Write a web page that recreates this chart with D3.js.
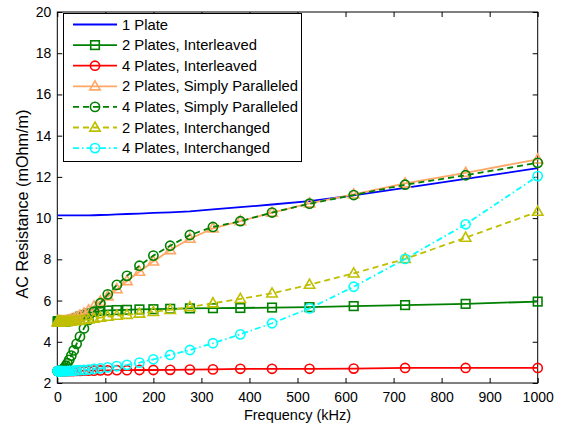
<!DOCTYPE html>
<html><head><meta charset="utf-8">
<script src="https://cdn.jsdelivr.net/npm/d3@7"></script>
<style>body{margin:0;background:#fff}svg{display:block}text{font-family:"Liberation Sans",Arial,sans-serif;fill:#000}</style>
</head><body><svg id="c" width="561" height="425"></svg>
<script>
const freq = [1, 1.17, 1.38, 1.62, 1.90, 2.23, 2.62, 3.08, 3.61, 4.24,
  4.98, 5.85, 6.87, 8.07, 9.47, 11.1, 13.1, 15.3, 18.0, 21.1,
  24.8, 29.2, 34.2, 40.2, 47.2, 55.4, 65.1, 76.4, 89.7, 105,
  124, 145, 171, 200, 235, 276, 324, 381, 447, 525,
  617, 724, 850, 1000];
const onePlate = [10.13,10.13,10.13,10.13,10.13,10.13,10.13,10.13,10.13,10.13,
  10.13,10.13,10.13,10.13,10.13,10.13,10.13,10.13,10.13,10.13,
  10.13,10.13,10.13,10.13,10.13,10.13,10.13,10.14,10.15,10.16,
  10.18,10.2,10.22,10.25,10.28,10.33,10.42,10.53,10.66,10.82,
  11.1,11.47,11.9,12.42];
const twoInterleaved = [4.98,4.98,4.98,4.98,4.98,4.98,4.98,4.98,4.98,4.98,
  4.98,4.98,4.98,4.98,4.98,4.98,4.98,4.98,4.99,5.01,
  5.03,5.06,5.1,5.15,5.22,5.3,5.38,5.45,5.5,5.52,
  5.54,5.55,5.57,5.58,5.6,5.62,5.63,5.64,5.66,5.68,
  5.73,5.78,5.84,5.95];
const fourInterleaved = [2.58,2.58,2.58,2.58,2.58,2.58,2.58,2.58,2.58,2.58,
  2.58,2.58,2.58,2.58,2.58,2.58,2.58,2.58,2.58,2.58,
  2.58,2.58,2.58,2.59,2.59,2.6,2.6,2.6,2.61,2.61,
  2.62,2.62,2.63,2.63,2.64,2.65,2.66,2.69,2.69,2.69,
  2.7,2.73,2.73,2.73];
const twoParallel = [4.98,4.98,4.98,4.98,4.98,4.98,4.98,4.98,4.98,4.98,
  4.98,4.98,4.98,4.98,4.98,4.98,4.98,4.99,5.0,5.02,
  5.05,5.08,5.12,5.18,5.27,5.38,5.52,5.72,5.95,6.2,
  6.55,6.95,7.4,7.9,8.45,9.0,9.5,9.85,10.27,10.72,
  11.15,11.68,12.2,12.85];
const fourParallel = [2.58,2.58,2.58,2.58,2.58,2.58,2.58,2.58,2.58,2.58,
  2.59,2.59,2.6,2.61,2.63,2.65,2.69,2.75,2.84,2.96,
  3.12,3.33,3.58,3.9,4.25,4.65,5.06,5.46,5.87,6.3,
  6.76,7.2,7.69,8.18,8.66,9.18,9.57,9.85,10.27,10.7,
  11.12,11.62,12.08,12.68];
const twoInterchanged = [4.97,4.97,4.97,4.97,4.97,4.97,4.97,4.97,4.97,4.97,
  4.97,4.97,4.97,4.97,4.97,4.97,4.97,4.97,4.97,4.97,
  4.98,4.99,5.01,5.02,5.04,5.06,5.09,5.12,5.17,5.22,
  5.27,5.31,5.37,5.45,5.55,5.68,5.87,6.08,6.35,6.77,
  7.32,8.02,9.05,10.31];
const fourInterchanged = [2.58,2.58,2.58,2.58,2.58,2.58,2.58,2.58,2.58,2.58,
  2.58,2.58,2.58,2.58,2.58,2.58,2.58,2.58,2.58,2.58,
  2.59,2.59,2.6,2.61,2.62,2.63,2.65,2.68,2.71,2.76,
  2.82,2.88,2.99,3.15,3.36,3.6,3.93,4.36,4.9,5.62,
  6.67,8.02,9.7,12.04];
const seriesNames = ["1 Plate","2 Plates, Interleaved","4 Plates, Interleaved","2 Plates, Simply Paralleled","4 Plates, Simply Paralleled","2 Plates, Interchanged","4 Plates, Interchanged"];
const xTicks = [0,100,200,300,400,500,600,700,800,900,1000];
const yTicks = [2,4,6,8,10,12,14,16,18,20];

const series = [
  {name:seriesNames[0], v:onePlate, color:"#0000ff", dash:null, marker:null},
  {name:seriesNames[1], v:twoInterleaved, color:"#008000", dash:null, marker:"square"},
  {name:seriesNames[2], v:fourInterleaved, color:"#ff0000", dash:null, marker:"circle"},
  {name:seriesNames[3], v:twoParallel, color:"#ffa766", dash:null, marker:"triangle"},
  {name:seriesNames[4], v:fourParallel, color:"#008000", dash:"6,4", marker:"circle"},
  {name:seriesNames[5], v:twoInterchanged, color:"#bfbf00", dash:"6,4", marker:"triangle"},
  {name:seriesNames[6], v:fourInterchanged, color:"#00ffff", dash:"6,3,1.5,3", marker:"circle"}
];

const svg = d3.select("#c");
const L=57.3, R=537.7, T=12, B=383;
const x = d3.scaleLinear().domain([0,1000]).range([L,R]);
const y = d3.scaleLinear().domain([2,20]).range([B,T]);

const fmt = d3.format("d");
const gx = svg.append("g").attr("transform",`translate(0,${B})`)
  .call(d3.axisBottom(x).tickValues(xTicks).tickFormat(fmt).tickSizeInner(-5).tickSizeOuter(0).tickPadding(9));
const gy = svg.append("g").attr("transform",`translate(${L},0)`)
  .call(d3.axisLeft(y).tickValues(yTicks).tickFormat(fmt).tickSizeInner(-5).tickSizeOuter(0).tickPadding(6));
const gxt = svg.append("g").attr("transform",`translate(0,${T})`)
  .call(d3.axisTop(x).tickValues(xTicks).tickSizeInner(-5).tickSizeOuter(0).tickFormat(""));
const gyr = svg.append("g").attr("transform",`translate(${R},0)`)
  .call(d3.axisRight(y).tickValues(yTicks).tickSizeInner(-5).tickSizeOuter(0).tickFormat(""));
[gx,gy,gxt,gyr].forEach(g=>{
  g.select(".domain").remove();
  g.selectAll("line").attr("stroke","#000").attr("stroke-width",1);
  g.selectAll("text").attr("font-size",14).attr("font-family","Liberation Sans, Arial, sans-serif").attr("fill","#000");
});
svg.append("rect").attr("x",L).attr("y",T).attr("width",R-L).attr("height",B-T)
  .attr("fill","none").attr("stroke","#000").attr("stroke-width",1);

svg.append("text").attr("x",(L+R)/2).attr("y",419.5).attr("text-anchor","middle")
  .attr("font-size",14.5).text("Frequency (kHz)");
svg.append("text").attr("transform",`translate(28,204) rotate(-90)`).attr("text-anchor","middle")
  .attr("font-size",16.2).text("AC Resistance (mOhm/m)");

function drawMarker(g, type, cx, cy, color){
  if(type==="circle"){
    g.append("circle").attr("cx",cx).attr("cy",cy).attr("r",4.6)
      .attr("fill","none").attr("stroke",color).attr("stroke-width",1.6);
  } else if(type==="square"){
    g.append("rect").attr("x",cx-4.3).attr("y",cy-4.3).attr("width",8.6).attr("height",8.6)
      .attr("fill","none").attr("stroke",color).attr("stroke-width",1.6);
  } else if(type==="triangle"){
    g.append("path").attr("d",`M${cx},${cy-5.5}L${cx+5.2},${cy+3.6}L${cx-5.2},${cy+3.6}Z`)
      .attr("fill","none").attr("stroke",color).attr("stroke-width",1.6);
  }
}

const line = d3.line().x((d,i)=>x(freq[i])).y(d=>y(d));
series.forEach(s=>{
  const g = svg.append("g");
  g.append("path").attr("d",line(s.v)).attr("fill","none").attr("stroke",s.color)
    .attr("stroke-width",1.8).attr("stroke-dasharray",s.dash);
  if(s.marker) s.v.forEach((v,i)=>drawMarker(g,s.marker,x(freq[i]),y(v),s.color));
});

const lg = svg.append("g");
lg.append("rect").attr("x",63.5).attr("y",13.5).attr("width",238).attr("height",148)
  .attr("fill","#fff").attr("stroke","#000").attr("stroke-width",1);
series.forEach((s,i)=>{
  const yy = 24.5 + i*20.6;
  lg.append("line").attr("x1",73).attr("x2",117).attr("y1",yy).attr("y2",yy)
    .attr("stroke",s.color).attr("stroke-width",1.8).attr("stroke-dasharray",s.dash);
  if(s.marker) drawMarker(lg,s.marker,95,yy,s.color);
  lg.append("text").attr("x",122).attr("y",yy+5).attr("font-size",14.8).text(s.name);
});
</script></body></html>
